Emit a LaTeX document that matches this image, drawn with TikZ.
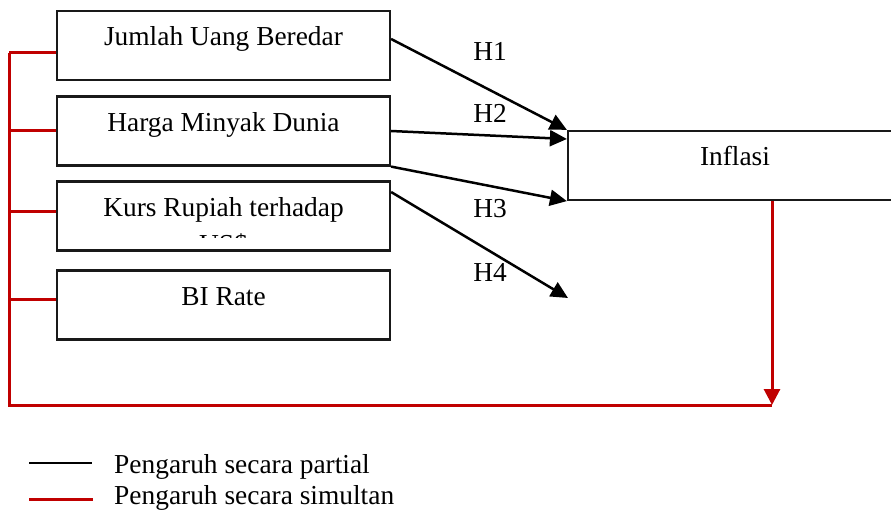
\documentclass[tikz,border=0pt]{standalone}
\usepackage{fontspec}
\setmainfont{Liberation Serif}
\usetikzlibrary{arrows.meta,calc}
\definecolor{simred}{RGB}{192,0,0}
\begin{document}
\begin{tikzpicture}[x=1pt,y=-1pt,
  varbox/.style={draw=black!90,line width=2.2pt,minimum width=333pt,minimum height=69pt,inner sep=0pt},
  lbl/.style={font=\fontsize{27.4}{33}\selectfont,inner sep=0pt,anchor=base},
  partial/.style={line width=2.5pt,-{Triangle[length=17pt,width=16pt]}},
  simultan/.style={draw=simred,line width=3pt},
  simarrow/.style={simultan,-{Triangle[length=16pt,width=16pt]}}]
\clip (0,0) rectangle (891,510);
% boxes
\node[varbox] (b1) at (223.5,45.5) {};
\node[varbox] (b2) at (223.5,131) {};
\node[varbox] (b3) at (223.5,216) {};
\node[varbox] (b4) at (223.5,305) {};
\node[varbox,minimum width=334pt] (inf) at (735,165.5) {};
% box texts
\node[lbl] (t1) at ([yshift=-36pt]b1.north) {Jumlah Uang Beredar};
\node[lbl] (t2) at ([yshift=-36pt]b2.north) {Harga Minyak Dunia};
\begin{scope}
\clip (58,183) rectangle (389,238);
\node[lbl] (t3) at ([yshift=-36pt]b3.north) {Kurs Rupiah terhadap};
\node[lbl] (t3b) at ([yshift=-73pt]b3.north) {US\$};
\end{scope}
\node[lbl] (t4) at ([yshift=-36pt]b4.north) {BI Rate};
\node[lbl] (ti) at ([yshift=-36pt]inf.north) {Inflasi};
% partial arrows
\coordinate (h4end) at (568,298);
\draw[partial] ([yshift=6.5pt]b1.east) -- (inf.north west);
\draw[partial] (b2.east) -- ([yshift=26.5pt]inf.west);
\draw[partial] (b2.south east) -- (inf.south west);
\draw[partial] ([yshift=24pt]b3.east) -- (h4end);
% hypothesis labels
\node[lbl] (H1) at (490,61) {H1};
\node[lbl] (H2) at (490,123) {H2};
\node[lbl] (H3) at (490,218) {H3};
\node[lbl] (H4) at (490,282) {H4};
% simultaneous lines
\coordinate (rt) at (9,53);
\coordinate (rl) at (9,405);
\coordinate (rb) at (772,405);
\draw[simultan] (rt) -- (rl) -- (rb);
\draw[simultan] (rt) -- ([yshift=-7.5pt]b1.west);
\draw[simultan] (9,131) -- (b2.west);
\draw[simultan] (9,212) -- ([yshift=4pt]b3.west);
\draw[simultan] (9,300) -- ([yshift=5pt]b4.west);
\draw[simarrow] ([xshift=37pt]inf.south) -- (rb);
% legend
\coordinate (l1a) at (29,463);
\coordinate (l1b) at (92,463);
\coordinate (l2a) at (29,499);
\coordinate (l2b) at (93,499);
\draw[line width=2.5pt] (l1a) -- (l1b);
\draw[simultan] (l2a) -- (l2b);
\node[lbl,anchor=base west] (lg1) at (114,473) {Pengaruh secara partial};
\node[lbl,anchor=base west] (lg2) at (114,504) {Pengaruh secara simultan};
\end{tikzpicture}
\end{document}
